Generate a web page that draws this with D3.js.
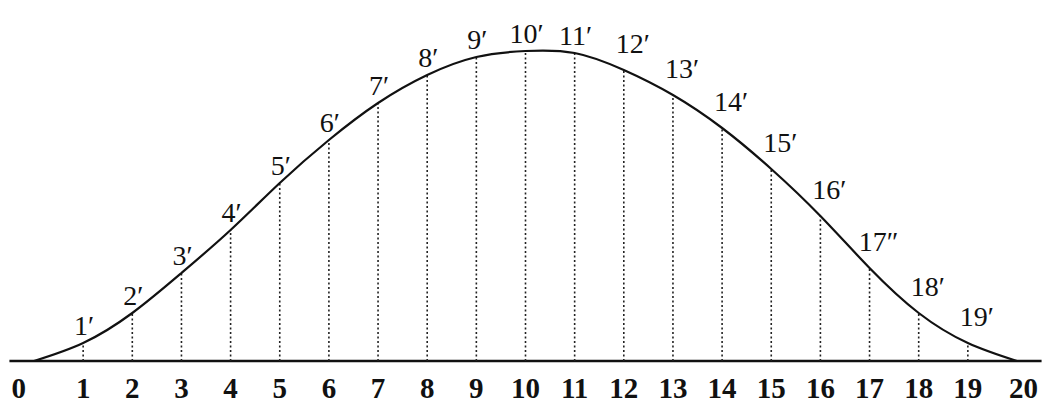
<!DOCTYPE html>
<html lang="en">
<head>
    <meta charset="UTF-8">
    <title>Ordinates of a bell curve</title>
    <script src="https://d3js.org/d3.v7.min.js"></script>
    <style>
        body { margin: 0; background: #fff; }
        text { font-family: "Liberation Serif", "DejaVu Serif", serif; fill: #111; }
    </style>
</head>
<body>
    <svg width="1044" height="406"></svg>

    <script>
        // Abscissa divisions along the base line
        const divisions = d3.range(0, 21);
        // Height of the curve over each division
        const heights = [0, 18, 48, 88, 131, 178, 221, 258, 286, 304, 310,
                         308, 291, 266, 233, 192, 145, 93, 48, 18, 0];
        // Labels written at the curve over each ordinate
        const curveLabels = ["", "1′", "2′", "3′", "4′", "5′", "6′", "7′", "8′", "9′", "10′",
                             "11′", "12′", "13′", "14′", "15′", "16′", "17″", "18′", "19′", ""];
        const axisLabels = divisions.map(String);

        const svg = d3.select("svg");

        const x = d3.scaleLinear().domain([0, 20]).range([34, 1017]);
        const y = d3.scaleLinear().domain([0, 310]).range([361, 51]);

        const data = divisions.map((d, i) => ({ i: d, h: heights[i], label: curveLabels[i] }));

        // base line
        svg.append("line")
            .attr("x1", x(-0.5)).attr("x2", x(20.5))
            .attr("y1", y(0)).attr("y2", y(0))
            .attr("stroke", "#111")
            .attr("stroke-width", 2.4);

        // dotted ordinates
        svg.append("g")
            .selectAll("line")
            .data(data.filter(d => d.i > 0 && d.i < 20))
            .join("line")
            .attr("x1", d => x(d.i)).attr("x2", d => x(d.i))
            .attr("y1", y(0)).attr("y2", d => y(d.h))
            .attr("stroke", "#222")
            .attr("stroke-width", 1.6)
            .attr("stroke-dasharray", "2,2.5");

        // the curve
        const line = d3.line()
            .x(d => x(d.i))
            .y(d => y(d.h))
            .curve(d3.curveNatural);

        svg.append("path")
            .datum(data)
            .attr("fill", "none")
            .attr("stroke", "#111")
            .attr("stroke-width", 2.2)
            .attr("d", line);

        // primed labels along the curve: left of the crest they sit on the curve,
        // right of it a little higher and shifted right
        const falling = d => d.i > 11;
        svg.append("g")
            .selectAll("text")
            .data(data.filter(d => d.label))
            .join("text")
            .attr("x", d => x(d.i) + (falling(d) ? 9 : 1))
            .attr("y", d => y(d.h) - (falling(d) ? 17 : 8))
            .attr("text-anchor", "middle")
            .attr("font-size", 28)
            .text(d => d.label);

        // division numbers under the base line
        svg.append("g")
            .selectAll("text")
            .data(axisLabels)
            .join("text")
            .attr("x", (d, i) => x(i))
            .attr("y", 398)
            .attr("dx", (d, i) => i === 0 ? -8 : (i === 20 ? -8 : 0))
            .attr("text-anchor", (d, i) => i === 0 ? "end" : (i === 20 ? "start" : "middle"))
            .attr("font-size", 29)
            .attr("font-weight", "bold")
            .text(d => d);
    </script>
</body>
</html>
